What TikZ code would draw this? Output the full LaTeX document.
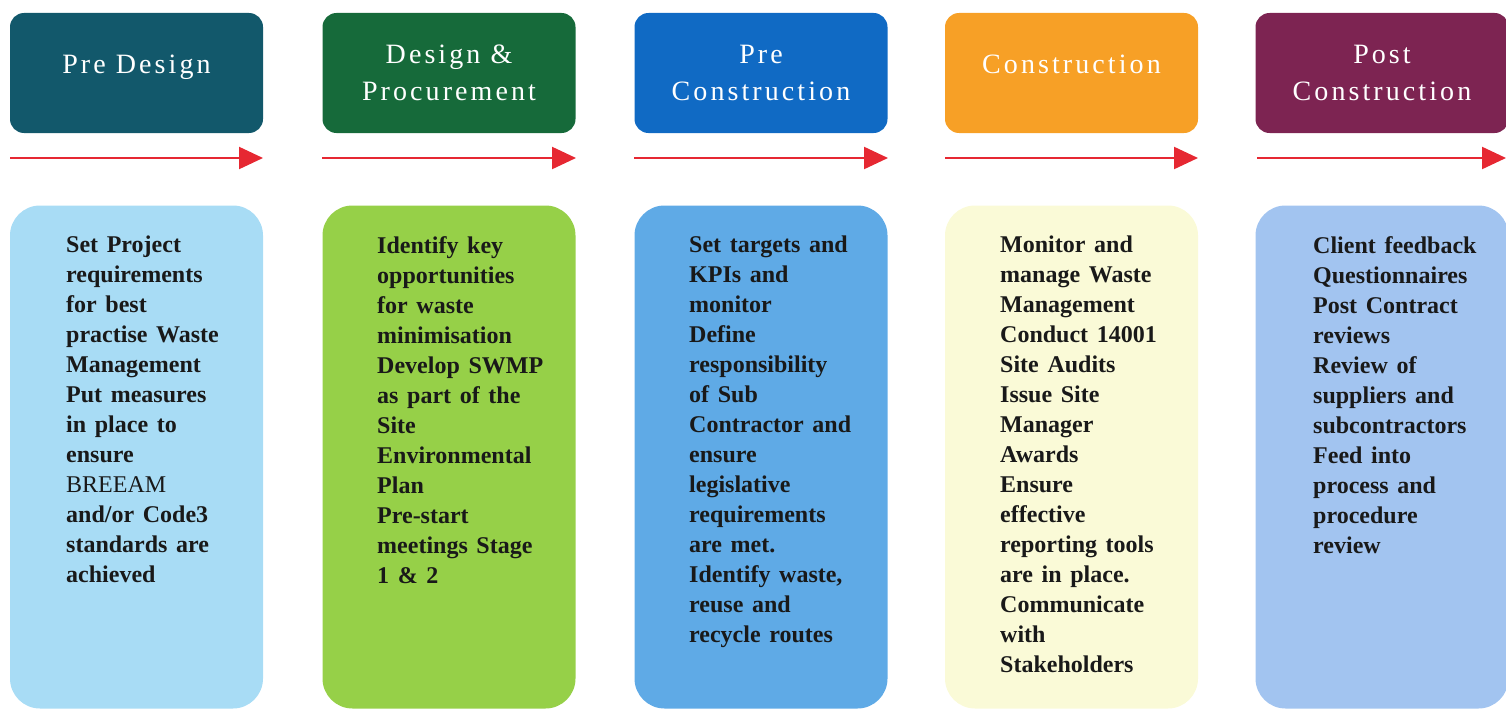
\documentclass[tikz,border=0pt]{standalone}
\usepackage{fontspec}
\setmainfont{Liberation Serif}
\newfontfamily\hdrfont[LetterSpace=11]{Liberation Serif}
\usetikzlibrary{arrows.meta}
\definecolor{hA}{RGB}{18,88,107}
\definecolor{hB}{RGB}{22,106,58}
\definecolor{hC}{RGB}{16,106,196}
\definecolor{hD}{RGB}{247,160,38}
\definecolor{hE}{RGB}{125,36,82}
\definecolor{lA}{RGB}{168,220,245}
\definecolor{lB}{RGB}{150,208,72}
\definecolor{lC}{RGB}{95,170,230}
\definecolor{lD}{RGB}{250,250,215}
\definecolor{lE}{RGB}{162,196,240}
\definecolor{arrred}{RGB}{230,40,50}
\definecolor{ink}{RGB}{25,25,25}
\tikzset{
  header/.style={rectangle, rounded corners=14pt, minimum width=253pt, minimum height=120pt,
    inner sep=0pt, text=white, align=center, font={\hdrfont\fontsize{28}{37}\selectfont}},
  panel/.style={rectangle, rounded corners=30pt, minimum width=253pt, minimum height=503pt, inner sep=0pt},
  bodytext/.style={anchor=north west, inner sep=0pt, align=left, text=ink,
    font={\fontsize{24}{30}\selectfont\bfseries\spaceskip=0.36em plus 0.1em}},
  flow/.style={draw=arrred, line width=2.2pt, -{Triangle[length=24pt, width=22pt]}}
}
\begin{document}
\begin{tikzpicture}[x=1pt,y=-1pt]
\useasboundingbox (0,0) rectangle (1506,709);
% headers
\node[header, fill=hA] (h1) at (136.5,73) {\raisebox{6pt}[\height][\depth]{Pre Design}};
\node[header, fill=hB] (h2) at (449,73) {Design \&\\Procurement};
\node[header, fill=hC] (h3) at (761,73) {Pre\\Construction};
\node[header, fill=hD] (h4) at (1071.5,73) {\raisebox{9pt}[\height][\depth]{Construction}};
\node[header, fill=hE] (h5) at (1382,73) {Post\\Construction};
% arrows
\foreach \i/\xs/\xe in {1/10/263, 2/322/576, 3/634/888, 4/945/1198, 5/1257/1506}{
  \coordinate (as\i) at (\xs,158);
  \coordinate (ae\i) at (\xe,158);
  \draw[flow] (as\i) -- (ae\i);
}
% panels
\node[panel, fill=lA] (b1) at (136.5,457) {};
\node[panel, fill=lB] (b2) at (449,457) {};
\node[panel, fill=lC] (b3) at (761,457) {};
\node[panel, fill=lD] (b4) at (1071.5,457) {};
\node[panel, fill=lE] (b5) at (1382,457) {};
% texts
\node[bodytext] (t1) at (66,236) {Set Project\\requirements\\for best\\practise Waste\\Management\\Put measures\\in place to\\ensure\\{\mdseries BREEAM}\\and/or Code3\\standards are\\achieved};
\node[bodytext] (t2) at (377,236) {Identify key\\opportunities\\for waste\\minimisation\\Develop SWMP\\as part of the\\Site\\Environmental\\Plan\\Pre-start\\meetings Stage\\1 \& 2};
\node[bodytext] (t3) at (689,236) {Set targets and\\KPIs and\\monitor\\Define\\responsibility\\of Sub\\Contractor and\\ensure\\legislative\\requirements\\are met.\\Identify waste,\\reuse and\\recycle routes};
\node[bodytext] (t4) at (1000,236) {Monitor and\\manage Waste\\Management\\Conduct 14001\\Site Audits\\Issue Site\\Manager\\Awards\\Ensure\\effective\\reporting tools\\are in place.\\Communicate\\with\\Stakeholders};
\node[bodytext] (t5) at (1313,236) {Client feedback\\Questionnaires\\Post Contract\\reviews\\Review of\\suppliers and\\subcontractors\\Feed into\\process and\\procedure\\review};
\end{tikzpicture}
\end{document}
